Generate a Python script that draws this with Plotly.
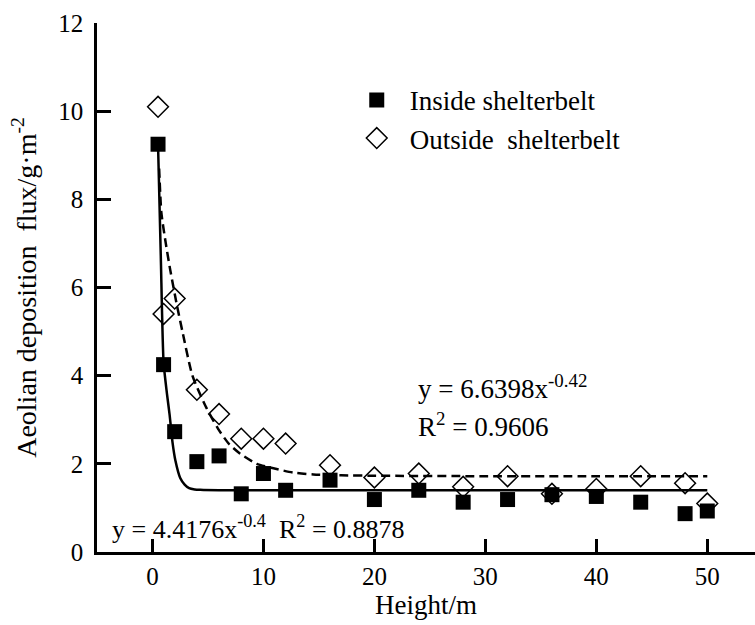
import plotly.graph_objects as go

# Observed data
heights = [0.5, 1, 2, 4, 6, 8, 10, 12, 16, 20, 24, 28, 32, 36, 40, 44, 48, 50]
inside = [9.25, 4.25, 2.73, 2.05, 2.18, 1.32, 1.78, 1.4, 1.63, 1.19, 1.4, 1.13, 1.19, 1.3, 1.26, 1.13, 0.87, 0.93]
outside = [10.1, 5.4, 5.75, 3.68, 3.13, 2.57, 2.57, 2.46, 1.97, 1.69, 1.78, 1.48, 1.72, 1.32, 1.43, 1.72, 1.56, 1.1]

# Fitted curves
fit_in_x = [0.5, 0.75, 1.0, 1.3, 1.55, 1.8, 2.07, 2.5, 2.9, 3.3, 3.8, 4.3, 6, 10, 20, 30, 40, 50]
fit_in_y = [9.25, 6.7, 4.3, 3.6, 3.1, 2.5, 2.07, 1.68, 1.53, 1.45, 1.42, 1.41, 1.4, 1.4, 1.4, 1.4, 1.4, 1.4]
fit_out_x = [0.6, 0.8, 1.2, 1.6, 2.2, 2.7, 3.6, 4.8, 5.9, 6.9, 7.9, 9.4, 10.9, 12.7, 14.5, 17, 20, 30, 40, 50]
fit_out_y = [8.7, 7.7, 7.0, 6.4, 5.6, 5.0, 4.0, 3.3, 2.8, 2.45, 2.23, 2.0, 1.9, 1.8, 1.76, 1.74, 1.73, 1.72, 1.72, 1.72]

x_ticks = [0, 10, 20, 30, 40, 50]
y_ticks = [0, 2, 4, 6, 8, 10, 12]

FONT = "Liberation Serif"

fig = go.Figure()
fig.add_trace(go.Scatter(x=fit_in_x, y=fit_in_y, mode="lines", line=dict(color="black", width=2.5, shape="spline", smoothing=0.6),
                         showlegend=False, hoverinfo="skip"))
fig.add_trace(go.Scatter(x=fit_out_x, y=fit_out_y, mode="lines", line=dict(color="black", width=2.5, dash="9px,5px", shape="spline", smoothing=0.6),
                         showlegend=False, hoverinfo="skip"))
fig.add_trace(go.Scatter(x=heights, y=inside, mode="markers", name="Inside shelterbelt",
                         marker=dict(symbol="square", size=15, color="black")))
fig.add_trace(go.Scatter(x=heights, y=outside, mode="markers", name="Outside\u00a0\u00a0shelterbelt",
                         marker=dict(symbol="diamond-open", size=16, color="black", line=dict(width=1.5, color="black"))))

fig.update_layout(
    width=755, height=625,
    margin=dict(l=97, r=0, t=23, b=73),
    paper_bgcolor="white", plot_bgcolor="white",
    font=dict(family=FONT, size=27, color="black"),
    legend=dict(x=0.375, y=0.90, xanchor="left", yanchor="top", bgcolor="rgba(0,0,0,0)",
                font=dict(family=FONT, size=27), itemwidth=56, tracegroupgap=0),
    xaxis=dict(range=[-5, 54.3], tickvals=x_ticks, ticks="inside", ticklen=13, tickwidth=2.5, tickcolor="black",
               showline=True, linewidth=2.5, linecolor="black", showgrid=False, zeroline=False,
               tickfont=dict(family=FONT, size=25), automargin=False,
               title=dict(text="Height/m", font=dict(family=FONT, size=27), standoff=6)),
    yaxis=dict(range=[0, 12], tickvals=y_ticks, ticks="inside", ticklen=14, tickwidth=2.5, tickcolor="black",
               showline=True, linewidth=2.5, linecolor="black", showgrid=False, zeroline=False,
               tickfont=dict(family=FONT, size=25), ticklabelstandoff=6, automargin=False,
               title=dict(text="Aeolian deposition\u00a0\u00a0flux/g·m<sup>-2</sup>", font=dict(family=FONT, size=28), standoff=14)),
)

fig.add_annotation(x=23.75, y=3.75, xref="x", yref="y", xanchor="left", yanchor="middle", showarrow=False,
                   text="y = 6.6398x<sup>-0.42</sup>", font=dict(family=FONT, size=27))
fig.add_annotation(x=23.75, y=2.88, xref="x", yref="y", xanchor="left", yanchor="middle", showarrow=False,
                   text="R<sup>2</sup> = 0.9606", font=dict(family=FONT, size=27))
fig.add_annotation(x=-3.8, y=0.55, xref="x", yref="y", xanchor="left", yanchor="middle", showarrow=False,
                   text="y = 4.4176x<sup>-0.4</sup>\u00a0\u00a0R<sup>2</sup> = 0.8878", font=dict(family=FONT, size=26))

fig.write_html("out.html", config={"displayModeBar": False}, post_script="document.body.style.margin='0';")
